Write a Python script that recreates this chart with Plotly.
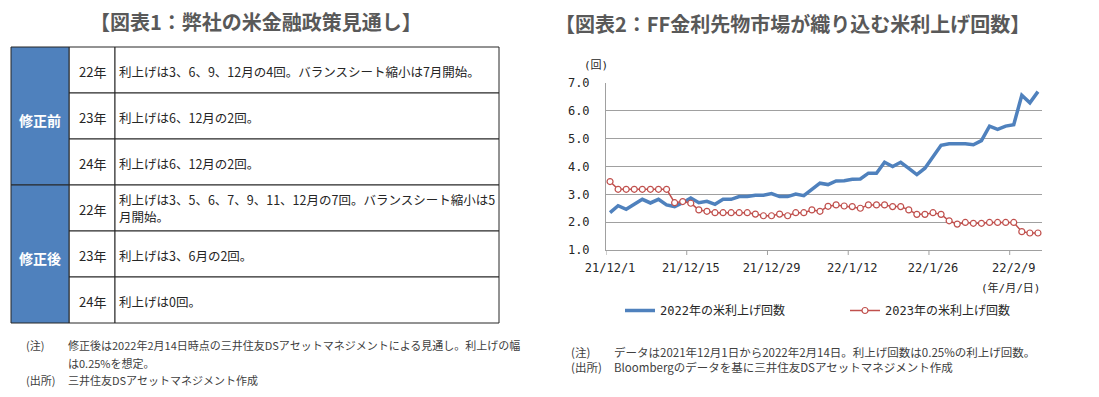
import plotly.graph_objects as go

W, H = 1099, 397

# ---------------- data ----------------
dates = [
    "2021-12-01", "2021-12-02", "2021-12-03", "2021-12-06", "2021-12-07", "2021-12-08",
    "2021-12-09", "2021-12-10", "2021-12-13", "2021-12-14", "2021-12-15", "2021-12-16",
    "2021-12-17", "2021-12-20", "2021-12-21", "2021-12-22", "2021-12-23", "2021-12-24",
    "2021-12-27", "2021-12-28", "2021-12-29", "2021-12-30", "2021-12-31", "2022-01-03",
    "2022-01-04", "2022-01-05", "2022-01-06", "2022-01-07", "2022-01-10", "2022-01-11",
    "2022-01-12", "2022-01-13", "2022-01-14", "2022-01-17", "2022-01-18", "2022-01-19",
    "2022-01-20", "2022-01-21", "2022-01-24", "2022-01-25", "2022-01-26", "2022-01-27",
    "2022-01-28", "2022-01-31", "2022-02-01", "2022-02-02", "2022-02-03", "2022-02-04",
    "2022-02-07", "2022-02-08", "2022-02-09", "2022-02-10", "2022-02-11", "2022-02-14",
]
hikes_2022 = [
    2.34, 2.59, 2.46, 2.65, 2.82, 2.69, 2.82, 2.62, 2.56, 2.70,
    2.87, 2.70, 2.75, 2.64, 2.82, 2.82, 2.92, 2.92, 2.97, 2.97,
    3.03, 2.92, 2.92, 3.01, 2.95, 3.18, 3.40, 3.35, 3.48, 3.49,
    3.54, 3.55, 3.76, 3.76, 4.15, 4.00, 4.15, 3.93, 3.71, 3.94,
    4.33, 4.76, 4.82, 4.82, 4.82, 4.78, 4.93, 5.45, 5.33, 5.45,
    5.50, 6.56, 6.29, 6.69,
]
hikes_2023 = [
    3.46, 3.18, 3.18, 3.18, 3.18, 3.18, 3.18, 3.18, 2.70, 2.74,
    2.68, 2.44, 2.39, 2.34, 2.34, 2.34, 2.34, 2.34, 2.29, 2.23,
    2.23, 2.29, 2.23, 2.34, 2.34, 2.44, 2.39, 2.57, 2.62, 2.58,
    2.56, 2.50, 2.62, 2.62, 2.62, 2.56, 2.56, 2.44, 2.28, 2.28,
    2.34, 2.28, 2.05, 1.93, 1.99, 1.96, 1.96, 1.99, 1.99, 1.99,
    1.99, 1.66, 1.61, 1.61,
]
series_names = ["2022年の米利上げ回数", "2023年の米利上げ回数"]
tick_dates = ["2021-12-01", "2021-12-15", "2021-12-29", "2022-01-12", "2022-01-26", "2022-02-09"]
tick_labels = ["21/12/1", "21/12/15", "21/12/29", "22/1/12", "22/1/26", "22/2/9"]
y_ticks = [1.0, 2.0, 3.0, 4.0, 5.0, 6.0, 7.0]

table_groups = ["修正前", "修正後"]
table_years = ["22年", "23年", "24年", "22年", "23年", "24年"]
table_texts = [
    ["利上げは3、6、9、12月の4回。バランスシート縮小は7月開始。"],
    ["利上げは6、12月の2回。"],
    ["利上げは6、12月の2回。"],
    ["利上げは3、5、6、7、9、11、12月の7回。バランスシート縮小は5", "月開始。"],
    ["利上げは3、6月の2回。"],
    ["利上げは0回。"],
]

title1 = "【図表1：弊社の米金融政策見通し】"
title2 = "【図表2：FF金利先物市場が織り込む米利上げ回数】"
notes1_labels = ["(注)", "(出所)"]
notes1_lines = [
    ["修正後は2022年2月14日時点の三井住友DSアセットマネジメントによる見通し。利上げの幅", "は0.25%を想定。"],
    ["三井住友DSアセットマネジメント作成"],
]
notes2_labels = ["(注)", "(出所)"]
notes2_lines = [
    ["データは2021年12月1日から2022年2月14日。利上げ回数は0.25%の利上げ回数。"],
    ["Bloombergのデータを基に三井住友DSアセットマネジメント作成"],
]

# ---------------- helpers ----------------
def fx(px):
    return px / W

def fy(py):
    return 1 - py / H

JP = "Noto Sans CJK JP"
MONO = "DejaVu Sans Mono, Noto Sans CJK JP"
BLUE = "#4f81bd"
RED = "#c0504d"
GRID = "#a0a0a0"
TXT = "#404040"

fig = go.Figure()

fig.add_trace(go.Scatter(
    x=dates, y=hikes_2022, name=series_names[0], mode="lines",
    line=dict(color=BLUE, width=3.5),
))
fig.add_trace(go.Scatter(
    x=dates, y=hikes_2023, name=series_names[1], mode="lines+markers",
    line=dict(color=RED, width=1.5),
    marker=dict(symbol="circle", size=6, color="white", line=dict(color=RED, width=1.2)),
))

shapes = []
annotations = []

# x tick marks at category boundaries
for td in tick_dates:
    i = dates.index(td)
    shapes.append(dict(type="line", xref="x", yref="y domain", x0=i - 0.5, x1=i - 0.5,
                       y0=0, y1=-0.03, line=dict(color=GRID, width=1)))

# ---------------- table ----------------
col_edges = [11, 69, 115, 499]
row_top, row_h = 47, 46
LINE = "#262626"
for r, (yr, lines) in enumerate(zip(table_years, table_texts)):
    y0 = row_top + r * row_h
    y1 = y0 + row_h
    for c in (1, 2):
        shapes.append(dict(type="rect", xref="paper", yref="paper",
                           x0=fx(col_edges[c]), x1=fx(col_edges[c + 1]), y0=fy(y1), y1=fy(y0),
                           fillcolor="white", line=dict(color=LINE, width=1), layer="below"))
    ym = (y0 + y1) / 2 + 1.5
    annotations.append(dict(text=yr, xref="paper", yref="paper",
                            x=fx((col_edges[1] + col_edges[2]) / 2), y=fy(ym),
                            xanchor="center", yanchor="middle", showarrow=False,
                            font=dict(family=JP, size=13, color="#262626")))
    n = len(lines)
    for k, ln in enumerate(lines):
        yl = ym + (k - (n - 1) / 2) * 17.5 - (1.5 if n > 1 else 0)
        annotations.append(dict(text=ln, xref="paper", yref="paper",
                                x=fx(col_edges[2] + 2), y=fy(yl), align="left",
                                xanchor="left", yanchor="middle", showarrow=False,
                                font=dict(family=JP, size=12.5, color="#262626")))
for g, name in enumerate(table_groups):
    y0 = row_top + g * 3 * row_h
    y1 = y0 + 3 * row_h
    shapes.append(dict(type="rect", xref="paper", yref="paper",
                       x0=fx(col_edges[0]), x1=fx(col_edges[1]), y0=fy(y1), y1=fy(y0),
                       fillcolor=BLUE, line=dict(color=LINE, width=1), layer="below"))
    annotations.append(dict(text="<b>" + name + "</b>", xref="paper", yref="paper",
                            x=fx((col_edges[0] + col_edges[1]) / 2), y=fy((y0 + y1) / 2 + 4),
                            xanchor="center", yanchor="middle", showarrow=False,
                            font=dict(family=JP, size=14, color="white")))

# ---------------- titles ----------------
annotations.append(dict(text="<b>" + title1 + "</b>", xref="paper", yref="paper",
                        x=fx(256), y=fy(22), xanchor="center", yanchor="middle", showarrow=False,
                        font=dict(family=JP, size=20, color="#595959")))
annotations.append(dict(text="<b>" + title2 + "</b>", xref="paper", yref="paper",
                        x=fx(553), y=fy(23), xanchor="left", yanchor="middle", showarrow=False,
                        font=dict(family=JP, size=20, color="#595959")))

# ---------------- notes ----------------
def note(txt, x, y, size):
    annotations.append(dict(text=txt, xref="paper", yref="paper", x=fx(x), y=fy(y),
                            xanchor="left", yanchor="middle", align="left", showarrow=False,
                            font=dict(family=JP, size=size, color=TXT)))

def note_block(labels, blocks, x_lab, x_txt, y_start, spacing, size):
    y = y_start
    for lab, lines in zip(labels, blocks):
        note(lab, x_lab, y, size)
        for ln in lines:
            note(ln, x_txt, y, size)
            y += spacing

note_block(notes1_labels, notes1_lines, 24, 66, 345, 17.5, 11)
note_block(notes2_labels, notes2_lines, 569, 612, 352, 15, 11.5)

# axis unit labels
annotations.append(dict(text="(回)", xref="paper", yref="paper", x=fx(596), y=fy(65),
                        xanchor="center", yanchor="middle", showarrow=False,
                        font=dict(family=MONO, size=11, color="#262626")))
annotations.append(dict(text="(年/月/日)", xref="paper", yref="paper", x=fx(1043), y=fy(288),
                        xanchor="right", yanchor="middle", showarrow=False,
                        font=dict(family=MONO, size=11, color="#262626")))

fig.update_layout(
    width=W, height=H,
    margin=dict(l=0, r=0, t=0, b=0, autoexpand=False),
    paper_bgcolor="white", plot_bgcolor="white",
    showlegend=True,
    legend=dict(orientation="h", x=fx(620), xanchor="left", y=fy(296), yanchor="top",
                font=dict(family=MONO, size=12, color="#262626"),
                entrywidth=180, entrywidthmode="pixels", bgcolor="rgba(0,0,0,0)"),
    xaxis=dict(domain=[fx(606), fx(1042)], type="category", range=[-0.5, len(dates) - 0.5],
               tickmode="array", tickvals=tick_dates, ticktext=tick_labels, ticks="",
               showgrid=False, showline=True, linecolor=GRID, linewidth=1, automargin=False,
               ticklabelstandoff=7,
               tickfont=dict(family=MONO, size=12, color="#262626")),
    yaxis=dict(domain=[fy(250), fy(83)], range=[1, 7], tickmode="array", tickvals=y_ticks,
               tickformat=".1f", ticks="", showgrid=True, gridcolor=GRID, gridwidth=1,
               showline=True, linecolor=GRID, linewidth=1, zeroline=False, automargin=False,
               ticklabelstandoff=13,
               tickfont=dict(family=MONO, size=12, color="#262626")),
    shapes=shapes,
    annotations=annotations,
)

fig.write_html("out.html", config={"displayModeBar": False},
               post_script="document.body.style.margin='0';")
